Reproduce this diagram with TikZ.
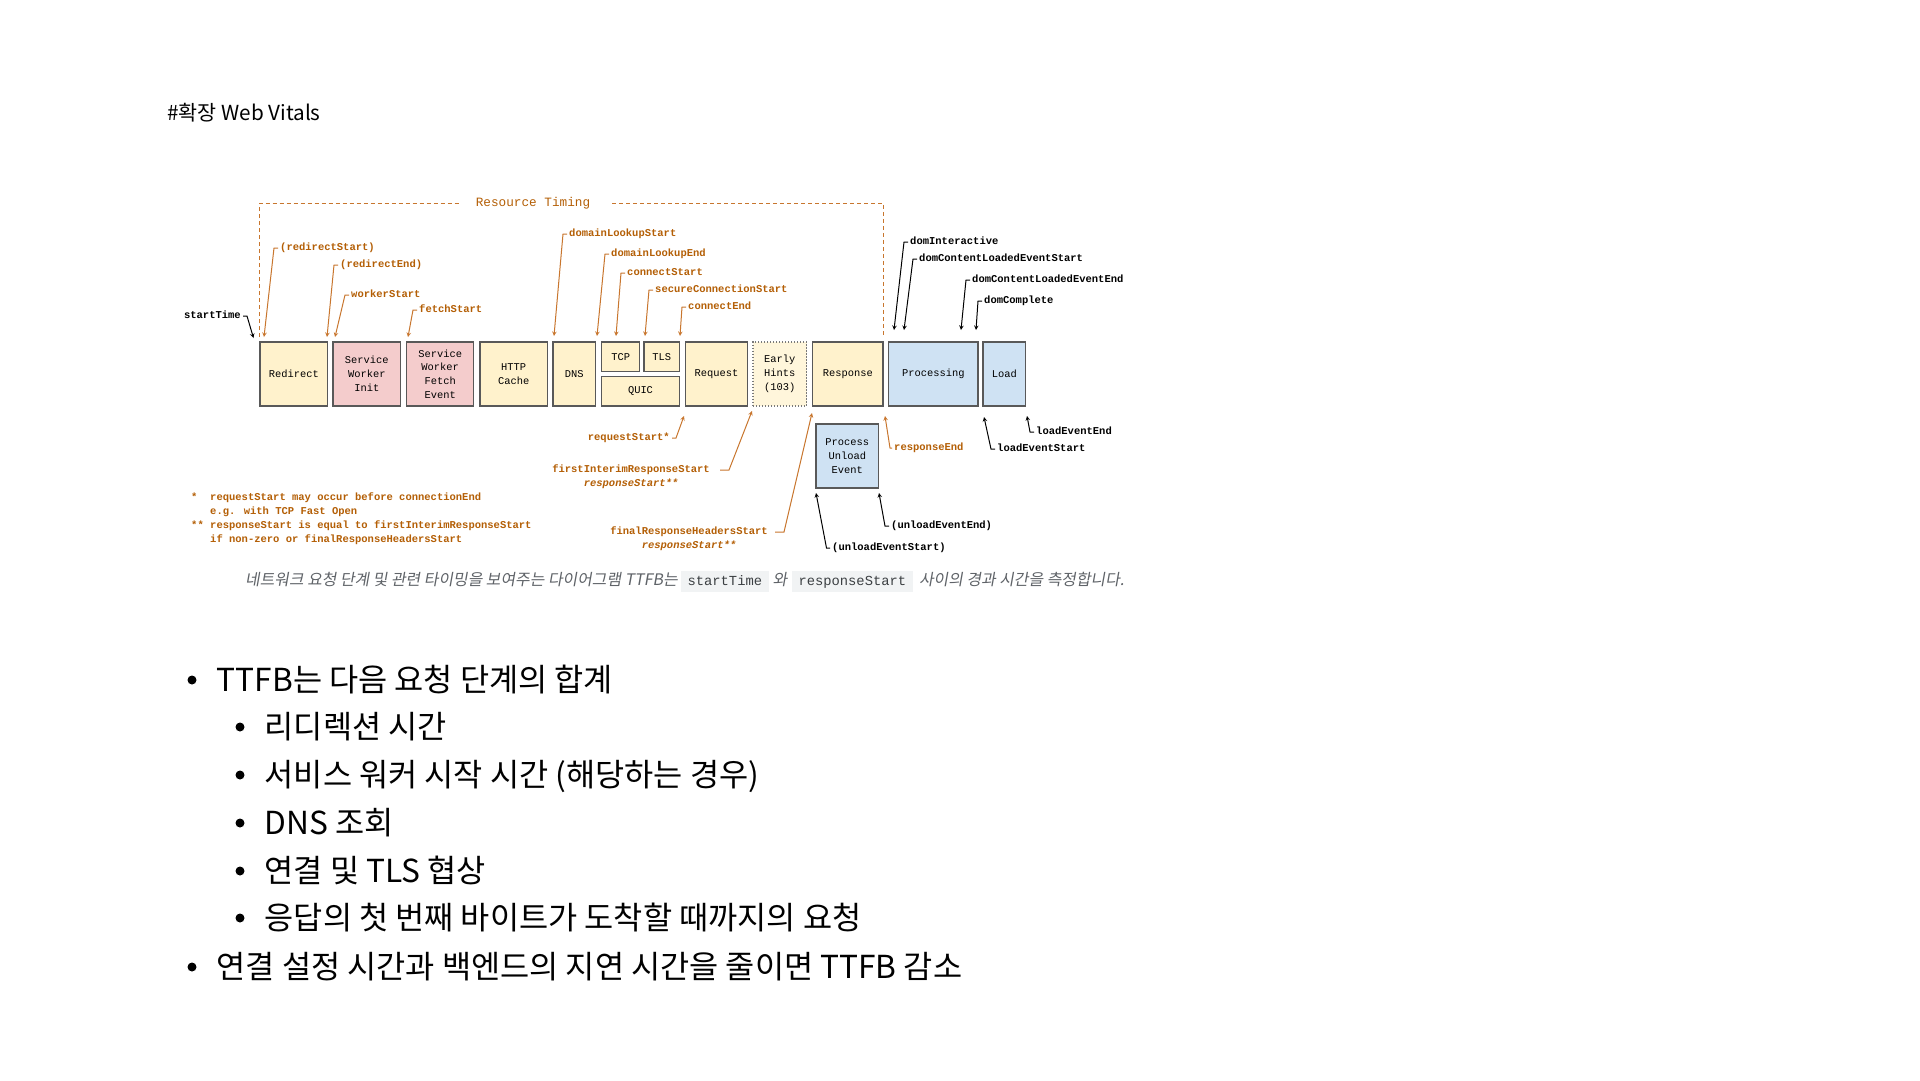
\documentclass[tikz,border=0pt]{standalone}
\usepackage{fontspec}
\setmainfont{Noto Sans CJK KR}
\newfontfamily\lblfont{Liberation Mono}
\newfontfamily\capfont[FakeSlant=0.18]{Noto Sans CJK KR}
\usetikzlibrary{arrows,positioning}
\definecolor{rtorange}{HTML}{B45F06}
\definecolor{rtline}{HTML}{C8762E}
\definecolor{phyellow}{HTML}{FFF2CC}
\definecolor{phpink}{HTML}{F4CCCC}
\definecolor{phblue}{HTML}{CFE2F3}
\definecolor{phborder}{HTML}{595959}
\definecolor{capgray}{HTML}{5F6368}
\definecolor{codebg}{HTML}{F1F3F4}
\definecolor{codefg}{HTML}{3C4043}
\tikzstyle{phase}=[rectangle,draw=phborder,line width=1.4pt,fill=phyellow,minimum height=64,inner sep=0pt,align=center,font=\lblfont\fontsize{10.4}{13.8}\selectfont]
\tikzstyle{olab}=[anchor=west,inner sep=2pt,text height=7.6pt,text depth=2.2pt,text=rtorange,font=\lblfont\bfseries\fontsize{10.5}{13.6}\selectfont]
\tikzstyle{blab}=[olab,text=black]
\tikzstyle{oarr}=[->,>=stealth,draw=rtline,line width=1pt]
\tikzstyle{barr}=[->,>=stealth,draw=black,line width=1pt]
\tikzstyle{rtdash}=[draw=rtline,line width=1pt,dash pattern=on 4pt off 3pt]
\tikzstyle{fnote}=[anchor=north west,inner sep=0pt,align=left,text=rtorange,font=\lblfont\bfseries\fontsize{10.5}{13.8}\selectfont]
\tikzstyle{captxt}=[inner sep=0pt,text height=11pt,text depth=3.5pt,text=capgray,font=\capfont\fontsize{15.9}{19}\selectfont]
\tikzstyle{codebox}=[fill=codebg,inner xsep=6.5pt,inner ysep=3.2pt,text height=10.5pt,text depth=3.5pt,text=codefg,font=\lblfont\fontsize{13.8}{16}\selectfont]
\tikzstyle{btxt}=[anchor=base west,inner sep=0pt,font=\fontsize{31.7}{38}\selectfont]
\tikzstyle{bdot}=[circle,fill=black,inner sep=0pt,minimum size=9pt]

\begin{document}
\begin{tikzpicture}[x=1pt,y=-1pt]
\fill[white] (0,0) rectangle (1920,1080);
\useasboundingbox (0,0) rectangle (1920,1080);

% heading
\node[anchor=base west,inner sep=0pt,font=\fontsize{20.7}{25}\selectfont] (title) at (167,120) {\#확장 Web Vitals};

% resource timing bracket
\node[inner sep=2pt,text=rtorange,font=\lblfont\fontsize{12.7}{15}\selectfont] (rt) at (533,203) {Resource Timing};
\coordinate (rtL) at (259.5,337);
\coordinate (rtR) at (883.5,336);
\draw[rtdash] (rtL) |- ([xshift=-15]rt.west);
\draw[rtdash] ([xshift=20]rt.east) -| (rtR);

% phases
\node[phase,minimum width=67.6] (redirect) at (293.8,374) {Redirect};
\node[phase,fill=phpink,minimum width=67.6] (swinit) at (366.8,374) {Service\\Worker\\Init};
\node[phase,fill=phpink,minimum width=67] (swfetch) at (440.2,374) {Service\\Worker\\Fetch\\Event};
\node[phase,minimum width=67.3] (cache) at (513.7,374) {HTTP\\Cache};
\node[phase,minimum width=42.6] (dns) at (574.3,374) {DNS};
\node[phase,minimum width=37.9,minimum height=29.6] (tcp) at (620.7,356.8) {TCP};
\node[phase,minimum width=35.6,minimum height=29.6] (tls) at (661.8,356.8) {TLS};
\node[phase,minimum width=78,minimum height=29.6] (quic) at (640.5,391.2) {QUIC};
\node[phase,minimum width=62.2] (request) at (716.5,374) {Request};
\node[phase,draw=phborder!80,fill=phyellow!70!white,dash pattern=on 1.4pt off 1.6pt,minimum width=53.6] (early) at (779.8,374) {Early\\Hints\\(103)};
\node[phase,minimum width=70.3] (response) at (847.9,374) {Response};
\node[phase,fill=phblue,minimum width=89.3] (processing) at (933.4,374) {Processing};
\node[phase,fill=phblue,minimum width=42.6] (load) at (1004.3,374) {Load};
\node[phase,fill=phblue,minimum width=62.6] (unload) at (847.3,456) {Process\\Unload\\Event};

% timing marks above
\node[blab,anchor=east] (stime) at (243,316) {startTime};
\coordinate (stimeT) at (253.5,338);
\draw[barr] (stime.east) -- ++(4,0) -- (stimeT);
\node[olab] (rStart) at (278,248) {(redirectStart)};
\coordinate (rStartT) at (264,337);
\draw[oarr] (rStart.west) -- ++(-4,0) -- (rStartT);
\node[olab] (rEnd) at (338,265) {(redirectEnd)};
\coordinate (rEndT) at (327,337);
\draw[oarr] (rEnd.west) -- ++(-4,0) -- (rEndT);
\node[olab] (wStart) at (349,295) {workerStart};
\coordinate (wStartT) at (335,337);
\draw[oarr] (wStart.west) -- ++(-4,0) -- (wStartT);
\node[olab] (fStart) at (417,310) {fetchStart};
\coordinate (fStartT) at (408,337);
\draw[oarr] (fStart.west) -- ++(-4,0) -- (fStartT);
\node[olab] (dlStart) at (567,234) {domainLookupStart};
\coordinate (dlStartT) at (554,336);
\draw[oarr] (dlStart.west) -- ++(-4,0) -- (dlStartT);
\node[olab] (dlEnd) at (609,254) {domainLookupEnd};
\coordinate (dlEndT) at (597,336);
\draw[oarr] (dlEnd.west) -- ++(-4,0) -- (dlEndT);
\node[olab] (cStart) at (625,273) {connectStart};
\coordinate (cStartT) at (616,336);
\draw[oarr] (cStart.west) -- ++(-4,0) -- (cStartT);
\node[olab] (scStart) at (653,290) {secureConnectionStart};
\coordinate (scStartT) at (645,336);
\draw[oarr] (scStart.west) -- ++(-4,0) -- (scStartT);
\node[olab] (cEnd) at (686,307) {connectEnd};
\coordinate (cEndT) at (680,336);
\draw[oarr] (cEnd.west) -- ++(-4,0) -- (cEndT);
\node[blab] (dInter) at (908,242) {domInteractive};
\coordinate (dInterT) at (894,330);
\draw[barr] (dInter.west) -- ++(-4,0) -- (dInterT);
\node[blab] (dclStart) at (917,259) {domContentLoadedEventStart};
\coordinate (dclStartT) at (904,330);
\draw[barr] (dclStart.west) -- ++(-4,0) -- (dclStartT);
\node[blab] (dclEnd) at (970,280) {domContentLoadedEventEnd};
\coordinate (dclEndT) at (961,330);
\draw[barr] (dclEnd.west) -- ++(-4,0) -- (dclEndT);
\node[blab] (dComp) at (982,301) {domComplete};
\coordinate (dCompT) at (976,330);
\draw[barr] (dComp.west) -- ++(-4,0) -- (dCompT);

% timing marks below
\node[olab,anchor=east] (reqStart) at (672,438) {requestStart*};
\coordinate (reqStartT) at (684,416);
\draw[oarr] (reqStart.east) -- ++(4,0) -- (reqStartT);
\node[olab,anchor=east] (fir) at (712,470) {firstInterimResponseStart};
\node[olab,font=\lblfont\bfseries\itshape\fontsize{10.5}{13.6}\selectfont,below=0pt of fir] (firRS) {responseStart**};
\coordinate (firT) at (752,411);
\draw[oarr] ([xshift=8]fir.east) -- ++(9,0) -- (firT);
\node[olab,anchor=east] (frh) at (770,532) {finalResponseHeadersStart};
\node[olab,font=\lblfont\bfseries\itshape\fontsize{10.5}{13.6}\selectfont,below=0pt of frh] (frhRS) {responseStart**};
\coordinate (frhT) at (812,413);
\draw[oarr] ([xshift=5]frh.east) -- ++(9,0) -- (frhT);
\node[olab] (rspEnd) at (892,448) {responseEnd};
\coordinate (rspEndT) at (885,416);
\draw[oarr] (rspEnd.west) -- ++(-2,0) -- (rspEndT);
\node[blab] (leStart) at (995,449) {loadEventStart};
\coordinate (leStartT) at (984,417);
\draw[barr] (leStart.west) -- ++(-4,0) -- (leStartT);
\node[blab] (leEnd) at (1034,432) {loadEventEnd};
\coordinate (leEndT) at (1027,416);
\draw[barr] (leEnd.west) -- ++(-4,0) -- (leEndT);
\node[blab] (ueEnd) at (889,526) {(unloadEventEnd)};
\coordinate (ueEndT) at (879,493);
\draw[barr] (ueEnd.west) -- ++(-4,0) -- (ueEndT);
\node[blab] (ueStart) at (830,548) {(unloadEventStart)};
\coordinate (ueStartT) at (816,493);
\draw[barr] (ueStart.west) -- ++(-3.5,0) -- (ueStartT);

% footnotes
\node[fnote] (fnMark) at (191,491) {\strut*\\\mbox{}\\**};
\node[fnote] (fnTxt) at (210,491) {\strut requestStart may occur before connectionEnd\\e.g. with TCP Fast Open\\responseStart is equal to firstInterimResponseStart\\if non-zero or finalResponseHeadersStart};

% caption
\node[captxt,anchor=west] (cap1) at (245,581.5) {네트워크 요청 단계 및 관련 타이밍을 보여주는 다이어그램 TTFB는};
\node[codebox,right=3pt of cap1] (code1) {startTime};
\node[captxt,right=3.5pt of code1] (cap2) {와};
\node[codebox,right=4.5pt of cap2] (code2) {responseStart};
\node[captxt,right=6pt of code2] (cap3) {사이의 경과 시간을 측정합니다.};

% bullets
\node[bdot] (b1dot) at (192,680) {};
\node[btxt] (b1) at (216.5,691) {TTFB는 다음 요청 단계의 합계};
\node[bdot] (s1dot) at (240,727) {};
\node[btxt] (s1) at (264.5,738) {리디렉션 시간};
\node[bdot] (s2dot) at (240,775) {};
\node[btxt] (s2) at (264.5,786) {서비스 워커 시작 시간 (해당하는 경우)};
\node[bdot] (s3dot) at (240,823) {};
\node[btxt] (s3) at (264.5,834) {DNS 조회};
\node[bdot] (s4dot) at (240,871) {};
\node[btxt] (s4) at (264.5,882) {연결 및 TLS 협상};
\node[bdot] (s5dot) at (240,918) {};
\node[btxt] (s5) at (264.5,929) {응답의 첫 번째 바이트가 도착할 때까지의 요청};
\node[bdot] (b2dot) at (192,967) {};
\node[btxt] (b2) at (216.5,978) {연결 설정 시간과 백엔드의 지연 시간을 줄이면 TTFB 감소};
\end{tikzpicture}
\end{document}
